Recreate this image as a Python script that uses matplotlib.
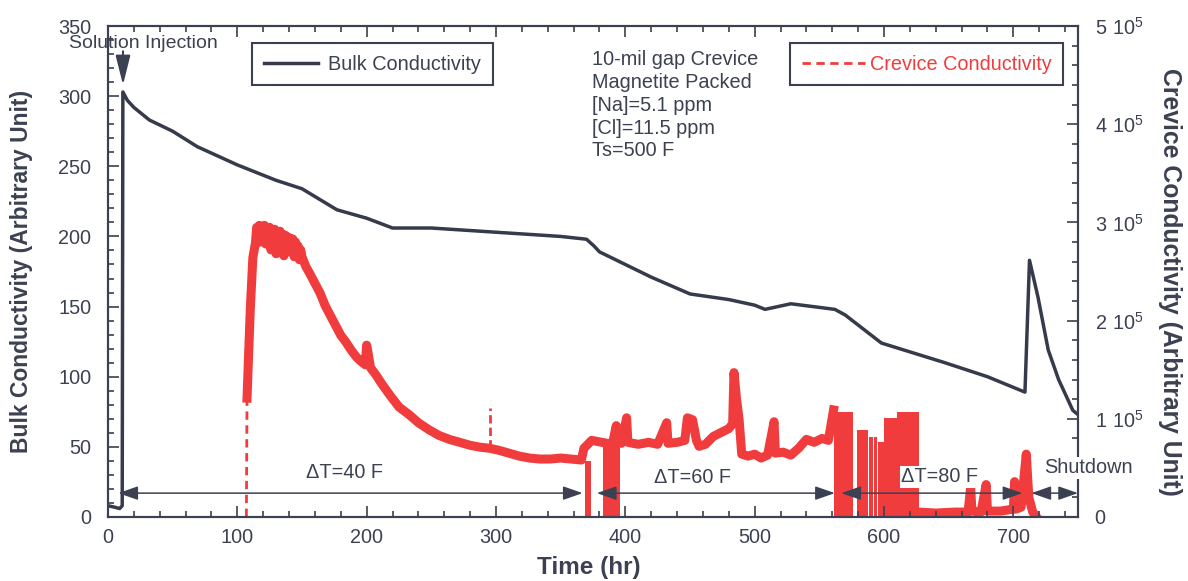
import numpy as np
import matplotlib
matplotlib.use('Agg')
import matplotlib.pyplot as plt
from matplotlib.ticker import MultipleLocator, FuncFormatter

plt.rcParams['font.family'] = ['Liberation Sans', 'DejaVu Sans']

# bulk conductivity (left axis, arbitrary unit)
bulk_t = [0, 5, 9, 11, 11.5, 15, 20, 32, 50, 69, 100, 130, 150, 177, 200, 220, 250, 300, 350, 370,
          376, 380, 400, 420, 450, 480, 500, 508, 518, 528, 545, 562, 570, 598, 647, 680, 709, 712.5,
          719, 727, 735, 746, 750]
bulk_v = [8, 7, 6, 8, 303, 297, 292, 283, 275, 264, 251, 240, 234, 219, 213, 206, 206, 203, 200, 198,
          193, 189, 180, 171, 159, 155, 151, 148, 150, 152, 150, 148, 144, 124, 110, 100, 89, 183,
          157, 119, 98, 76, 73]

# crevice conductivity (right axis), values in thousands
crev_t = [107.5, 110, 112, 114, 115, 116, 117, 118, 119, 120, 121, 122, 123, 124, 125, 126, 127, 128,
          129, 130, 131, 132, 133, 134, 135, 136, 137, 138, 139, 140, 141, 142, 143, 144, 145, 146,
          147, 148, 149, 150, 153, 156, 160, 164, 168, 172, 176, 180, 184, 188, 192, 196, 199,
          200, 201, 203, 207, 212, 218, 225, 233, 240, 248, 256, 264, 272, 280, 288, 295,
          302, 310, 318, 326, 334, 342, 350, 358, 366, 368, 374, 382, 390, 393, 394, 397, 401, 402,
          410, 418, 425, 432, 433, 440, 446, 448, 452, 455, 457, 462, 468, 474, 480, 483, 484, 486,
          488, 490, 495, 500, 505, 510, 515, 516, 522, 528, 534, 540, 546, 552, 557, 561, 594, 627,
          640, 655, 665, 667, 668, 675, 679, 680, 690, 700, 701, 702, 706, 710, 712, 715, 718]
crev_k = [121, 211, 264, 279, 295, 285, 297, 280, 294, 284, 297, 278, 292, 283, 295, 272, 290, 282,
          293, 268, 290, 280, 291, 275, 288, 266, 287, 279, 285, 270, 284, 276, 283, 265, 280, 272,
          276, 262, 272, 265, 255, 248, 238, 228, 215, 205, 195, 185, 178, 170, 163, 158, 155,
          175, 168, 152, 145, 135, 124, 112, 104, 96, 89, 83, 79, 76, 73, 71, 70,
          68, 65, 62, 60, 59, 59, 60, 59, 58, 70, 78, 76, 74, 93, 76, 75, 101, 76,
          74, 76, 74, 96, 75, 76, 78, 101, 99, 78, 72, 74, 82, 86, 90, 95, 147, 120,
          99, 64, 62, 64, 60, 63, 97, 65, 66, 63, 70, 79, 76, 80, 78, 109, np.nan, 5,
          4, 5, 5, 30, 6, 5, 33, 6, 6, 8, 36, 8, 10, 64, 20, 5, 0]

# onset of the crevice signal and an isolated spike (dashed)
rise_t = [107, 107.5]
rise_k = [0, 121]
spike_t = [295, 295]
spike_k = [70, 111]

# periods where the crevice signal swings down to zero
burst_t0 = [368.5, 382.5, 561, 579, 588.5, 592.5, 595.5, 600, 610]
burst_t1 = [373.5, 395.5, 576, 587.5, 591.5, 594.5, 600, 610, 627]
burst_k = [57, 76, 107, 89, 81, 81, 76, 101, 107]

spans = [(8, 367), (378, 562), (567, 707), (714, 750)]
span_labels = ['\u0394T=40 F', '\u0394T=60 F', '\u0394T=80 F', 'Shutdown']

ink = '#3b4150'
red = '#f03c3c'
fs = 14.3

fig = plt.figure(figsize=(11.88, 5.81), dpi=100)
ax = fig.add_axes([0.0909, 0.1102, 0.8165, 0.845])
ax2 = ax.twinx()
# bulk axis (with texts and arrows) drawn over the crevice trace
ax.set_zorder(ax2.get_zorder() + 1)
ax.patch.set_visible(False)

bulk_line, = ax.plot(bulk_t, bulk_v, color='#353b4b', lw=2.5)
ax2.bar(burst_t0, np.array(burst_k) * 1000, width=np.subtract(burst_t1, burst_t0),
        align='edge', color=red, lw=0)
ax2.plot(crev_t, np.array(crev_k, dtype=float) * 1000, color=red, lw=6.5)
ax2.plot(spike_t, np.array(spike_k) * 1000, color=red, lw=2, ls=(0, (3, 1.5)))
rise_line, = ax2.plot(rise_t, np.array(rise_k) * 1000, color=red, lw=2, ls=(0, (3, 2)))

ax.set_xlim(0, 750)
ax.set_ylim(0, 350)
ax2.set_ylim(0, 5e5)

ax.xaxis.set_major_locator(MultipleLocator(100))
ax.xaxis.set_minor_locator(MultipleLocator(20))
ax.yaxis.set_major_locator(MultipleLocator(50))
ax.yaxis.set_minor_locator(MultipleLocator(10))
ax2.yaxis.set_major_locator(MultipleLocator(1e5))
ax2.yaxis.set_minor_locator(MultipleLocator(2e4))
ax2.yaxis.set_major_formatter(FuncFormatter(
    lambda v, p: '0' if v == 0 else r'$\mathregular{%d\ 10^{5}}$' % round(v / 1e5)))

ax.tick_params(which='both', direction='in', top=True, colors=ink, labelsize=fs, width=1.2)
ax.tick_params(which='major', length=8)
ax.tick_params(which='minor', length=4)
ax.tick_params(axis='x', pad=8)
ax.tick_params(axis='y', pad=12)
ax2.tick_params(which='both', direction='in', colors=ink, labelsize=fs, width=1.2, pad=12)
ax2.tick_params(which='major', length=8)
ax2.tick_params(which='minor', length=4)
for a in (ax, ax2):
    for s in a.spines.values():
        s.set_color(ink)
        s.set_linewidth(1.5)

# labels
ax.set_xlabel('Time (hr)', fontsize=17.5, fontweight='bold', color=ink)
ax.xaxis.set_label_coords(0.496, -0.079)
fig.text(0.0185, 0.532, 'Bulk Conductivity (Arbitrary Unit)', rotation=90, ha='center', va='center',
         fontsize=16.5, fontweight='bold', color=ink)
fig.text(0.985, 0.515, 'Crevice Conductivity (Arbitrary Unit)', rotation=270, ha='center', va='center',
         fontsize=17.8, fontweight='bold', color=ink)

# legends
leg1 = ax.legend([bulk_line], ['Bulk Conductivity'], loc='upper left', bbox_to_anchor=(0.1485, 0.965),
                 borderaxespad=0, fancybox=False, edgecolor=ink, fontsize=fs, handlelength=2.76,
                 handletextpad=0.5, borderpad=0.58, framealpha=1, labelcolor=ink)
leg1.get_frame().set_linewidth(1.5)
ax.add_artist(leg1)
leg2 = ax.legend([rise_line], ['Crevice Conductivity'], loc='upper right', bbox_to_anchor=(0.985, 0.965),
                 borderaxespad=0, fancybox=False, edgecolor=ink, fontsize=fs, handlelength=3.2,
                 handletextpad=0.25, borderpad=0.58, framealpha=1, labelcolor=red)
leg2.get_frame().set_linewidth(1.5)

# test conditions
ax.text(374, 333, '10-mil gap Crevice\nMagnetite Packed\n[Na]=5.1 ppm\n[Cl]=11.5 ppm\nTs=500 F',
        ha='left', va='top', fontsize=fs, color=ink, linespacing=1.26)

# solution injection marker
ax.text(27, 337.3, 'Solution Injection', ha='center', va='center', fontsize=14, color=ink)
ax.annotate('', xy=(11.6, 308), xytext=(11.6, 332),
            arrowprops=dict(arrowstyle='-|>,head_length=1.8,head_width=0.45', color=ink, lw=1.5,
                            shrinkA=0, shrinkB=0, mutation_scale=10))

# temperature periods
for (t0, t1), lab, lx, ly in zip(spans, span_labels, [183, 452, 643, 758], [32, 28, 28.5, 35]):
    ax.annotate('', xy=(t0, 17), xytext=(t1, 17),
                arrowprops=dict(arrowstyle='<|-|>,head_length=1.2,head_width=0.42', color=ink, lw=1.1,
                                shrinkA=0, shrinkB=0, mutation_scale=10))
    ax.text(lx, ly, lab, ha='center', va='center', fontsize=fs, color=ink,
            bbox=dict(facecolor='white', edgecolor='none', pad=1))

fig.savefig('out.png', dpi=100)
